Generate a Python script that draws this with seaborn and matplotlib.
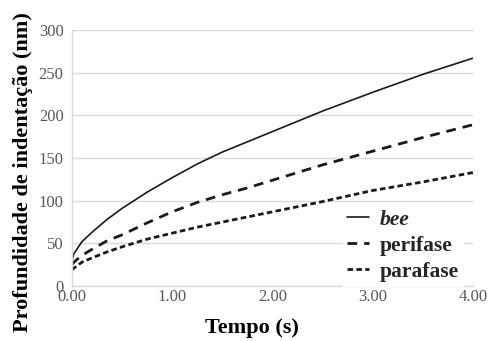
import matplotlib
matplotlib.use("Agg")
import matplotlib.pyplot as plt
import seaborn as sns
import pandas as pd

# Indentation depth (nm) over time (s) for the three samples
tempo = [0.0, 0.02, 0.1, 0.2, 0.35, 0.5, 0.75, 1.0, 1.25, 1.5, 1.75, 2.0, 2.5, 3.0, 3.5, 4.0]
bee = [30, 38, 52, 63, 78, 91, 110, 127, 143, 157, 169, 181, 205, 227, 248, 267]
perifase = [25, 28, 36, 43, 53, 60, 74, 87, 98, 107, 115, 124, 142, 158, 174, 189]
parafase = [19, 21, 28, 33, 40, 46, 55, 62, 69, 75, 81, 87, 99, 112, 122, 133]
series_names = ["bee", "perifase", "parafase"]
x_ticks = [0, 1, 2, 3, 4]
y_ticks = [0, 50, 100, 150, 200, 250, 300]

df = pd.concat([
    pd.DataFrame({"Tempo": tempo, "Prof": vals, "Fase": name})
    for name, vals in zip(series_names, [bee, perifase, parafase])
])

sns.set_theme(style="white")
plt.rcParams["font.family"] = ["Liberation Serif", "DejaVu Serif"]

fig = plt.figure(figsize=(4.89, 3.41), dpi=100)
ax = fig.add_axes([0.147, 0.161, 0.820, 0.751])

dash_map = {"bee": "", "perifase": (3.5, 2.5), "parafase": (2.0, 1.2)}
width_map = {"bee": 1.2, "perifase": 2.0, "parafase": 2.0}
for name in series_names:
    sub = df[df["Fase"] == name]
    line_ls = "-" if name == "bee" else (0, dash_map[name])
    sns.lineplot(data=sub, x="Tempo", y="Prof", ax=ax, color="#1a1a1a",
                 linewidth=width_map[name], linestyle=line_ls, label=name,
                 legend=False)

ax.set_xlim(0, 4)
ax.set_ylim(0, 300)
ax.set_xticks(x_ticks)
ax.set_xticklabels([f"{v:.2f}" for v in x_ticks])
ax.set_yticks(y_ticks)
ax.yaxis.grid(True, color="#d9d9d9", linewidth=1.0)
ax.xaxis.grid(False)
for side in ["top", "right"]:
    ax.spines[side].set_visible(False)
for side in ["left", "bottom"]:
    ax.spines[side].set_color("#d9d9d9")
    ax.spines[side].set_linewidth(1.0)
ax.tick_params(axis="both", length=0, labelsize=12, labelcolor="#595959")
ax.tick_params(axis="y", pad=6)
ax.tick_params(axis="x", pad=2)

ax.set_xlabel("Tempo (s)", fontsize=16, fontweight="bold", color="black")
ax.set_ylabel("Profundidade de indentação (nm)", fontsize=16, fontweight="bold",
              color="black")
ax.xaxis.set_label_coords(0.449, -0.125)
ax.yaxis.set_label_coords(-0.097, 0.445)

leg = ax.legend(loc="upper left", frameon=True, fontsize=15.5, handlelength=1.0,
                handletextpad=0.5, labelspacing=0.27, borderpad=0.2,
                borderaxespad=0.0,
                bbox_to_anchor=(0.701, 0.397), bbox_transform=fig.transFigure)
leg.get_frame().set_edgecolor("white")
leg.get_frame().set_facecolor("white")
leg.get_frame().set_alpha(1.0)
leg.get_frame().set_boxstyle("square", pad=0)
for txt in leg.get_texts():
    txt.set_fontweight("bold")
    if txt.get_text() == "bee":
        txt.set_fontstyle("italic")

fig.savefig("out.png", dpi=100)
